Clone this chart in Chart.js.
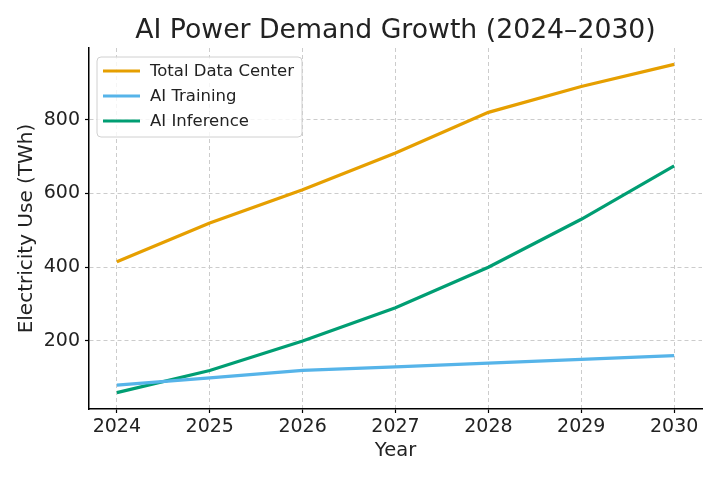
<!DOCTYPE html>
<html>
<head>
<meta charset="utf-8">
<script src="https://cdn.jsdelivr.net/npm/chart.js@4.4.1/dist/chart.umd.min.js"></script>
<style>
  html, body { margin: 0; padding: 0; background: #fff; }
  #wrap { width: 720px; height: 480px; }
</style>
</head>
<body>
<div id="wrap"><canvas id="powerChart" width="720" height="480"></canvas></div>
<script>
const years = [2024, 2025, 2026, 2027, 2028, 2029, 2030];
const totalDataCenter = [415, 520, 610, 710, 820, 890, 950];
const aiTraining = [80, 100, 120, 130, 140, 150, 160];
const aiInference = [60, 120, 200, 290, 400, 530, 675];
const yTicks = [200, 400, 600, 800];

const colors = {
    orange: '#E69F00',
    skyBlue: '#56B4E9',
    green: '#009E73',
    grid: '#cccccc',
    text: '#222222'
};

const fontFamily = '"DejaVu Sans", sans-serif';
Chart.defaults.font.family = fontFamily;
Chart.defaults.color = colors.text;

function toPoints(values) {
    return values.map((v, i) => ({ x: years[i], y: v }));
}

// title centred over the plot area, and a matplotlib-style boxed legend inside it
const overlayPlugin = {
    id: 'overlay',
    afterDraw(chart) {
        const ctx = chart.ctx;
        const area = chart.chartArea;
        ctx.save();
        ctx.fillStyle = colors.text;
        ctx.font = '26.7px ' + fontFamily;
        ctx.textAlign = 'center';
        ctx.textBaseline = 'alphabetic';
        ctx.fillText('AI Power Demand Growth (2024\u20132030)', (area.left + area.right) / 2, 38);

        const boxX = area.left + 8, boxY = area.top + 9, boxW = 205, boxH = 80;
        ctx.beginPath();
        ctx.roundRect(boxX, boxY, boxW, boxH, 4);
        ctx.fillStyle = 'rgba(255,255,255,0.8)';
        ctx.fill();
        ctx.strokeStyle = '#d0d0d0';
        ctx.lineWidth = 1;
        ctx.stroke();

        ctx.font = '16.5px ' + fontFamily;
        ctx.textAlign = 'left';
        ctx.textBaseline = 'middle';
        chart.data.datasets.forEach((ds, i) => {
            const y = boxY + 14 + i * 25;
            ctx.strokeStyle = ds.borderColor;
            ctx.lineWidth = 3;
            ctx.beginPath();
            ctx.moveTo(boxX + 6, y);
            ctx.lineTo(boxX + 43, y);
            ctx.stroke();
            ctx.fillStyle = colors.text;
            ctx.fillText(ds.label, boxX + 53, y + 1);
        });
        ctx.restore();
    }
};

const ctx = document.getElementById('powerChart').getContext('2d');
new Chart(ctx, {
    type: 'line',
    data: {
        datasets: [
            { label: 'Total Data Center', data: toPoints(totalDataCenter), borderColor: colors.orange },
            { label: 'AI Training', data: toPoints(aiTraining), borderColor: colors.skyBlue },
            { label: 'AI Inference', data: toPoints(aiInference), borderColor: colors.green }
        ]
    },
    options: {
        responsive: false,
        animation: false,
        devicePixelRatio: 1,
        elements: {
            line: { borderWidth: 3.2, tension: 0, fill: false },
            point: { radius: 0, hoverRadius: 0 }
        },
        layout: { padding: { left: 0, right: 18, top: 48, bottom: 0 } },
        plugins: {
            legend: { display: false },
            title: { display: false },
            tooltip: { enabled: false }
        },
        scales: {
            x: {
                type: 'linear',
                min: 2023.7,
                max: 2030.3,
                afterBuildTicks: scale => { scale.ticks = years.map(v => ({ value: v })); },
                afterFit: scale => { scale.height = 71; },
                ticks: {
                    font: { size: 19 },
                    color: colors.text,
                    padding: 3,
                    maxRotation: 0,
                    autoSkip: false,
                    callback: v => String(v)
                },
                grid: { color: colors.grid, lineWidth: 1, tickLength: 4, tickColor: '#000', tickWidth: 1.2 },
                border: { display: true, color: '#000', width: 1.5, dash: [4, 3] },
                title: { display: true, text: 'Year', font: { size: 19.5 }, color: colors.text, padding: { top: 0, bottom: 17 } }
            },
            y: {
                min: 15.5,
                max: 994.5,
                afterBuildTicks: scale => { scale.ticks = yTicks.map(v => ({ value: v })); },
                afterFit: scale => { scale.width = 89; },
                ticks: {
                    font: { size: 19 },
                    color: colors.text,
                    padding: 5,
                    callback: v => String(v)
                },
                grid: { color: colors.grid, lineWidth: 1, tickLength: 4, tickColor: '#000', tickWidth: 1.2 },
                border: { display: true, color: '#000', width: 1.5, dash: [4, 3] },
                title: { display: true, text: 'Electricity Use (TWh)', font: { size: 20 }, color: colors.text, padding: { top: 15, bottom: 0 } }
            }
        }
    },
    plugins: [overlayPlugin]
});
</script>
</body>
</html>
